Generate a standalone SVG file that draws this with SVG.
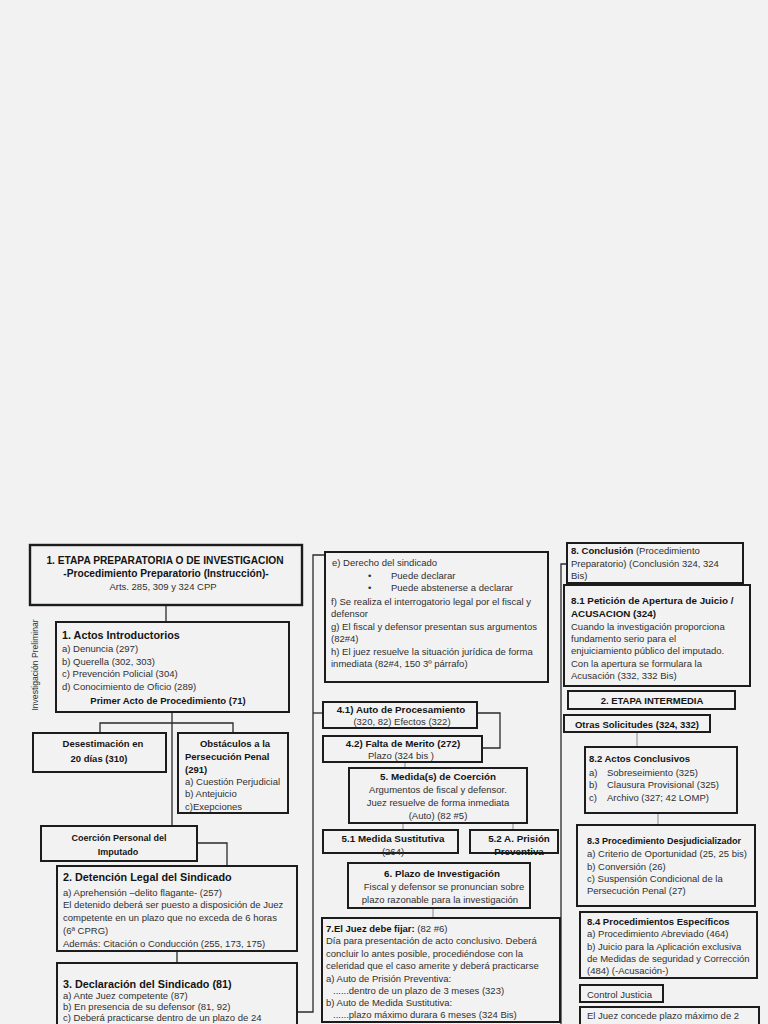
<svg xmlns="http://www.w3.org/2000/svg" width="768" height="1024" viewBox="0 0 768 1024">
<style>
text{font-family:"Liberation Sans",Arial,sans-serif;font-size:9.5px;fill:#303030}
.b{font-weight:bold;fill:#141414}
.s{font-size:9.8px;font-weight:bold;fill:#141414}
.h{font-size:10.8px;font-weight:bold;fill:#141414}
.t{font-size:10.2px;font-weight:bold;fill:#141414}
.c{text-anchor:middle}
.box{fill:none;stroke:#1c1c1c;stroke-width:2}
.thick{stroke-width:2.4}
.ln{fill:none;stroke:#2a2a2a;stroke-width:1.3}
.fl{fill:none;stroke:#8a8a8a;stroke-width:1}
</style>
<rect x="0" y="0" width="768" height="1024" fill="#f2f2f2"/>

<g id="connectors">
<path class="ln" d="M166 605V622"/>
<path class="ln" d="M172 712V826"/>
<path class="ln" d="M100 733V723H233V733"/>
<path class="ln" d="M197 843H227V866"/>
<path class="ln" d="M177 951V963"/>
<path class="ln" d="M297 1012H313V555H325"/>
<path class="ln" d="M313 713H323"/>
<path class="ln" d="M477 713H500V748H482"/>
<path class="fl" d="M405 762V768"/>
<path class="fl" d="M403 823V830"/>
<path class="fl" d="M513 823V830"/>
<path class="fl" d="M433 908V918"/>
<path class="ln" d="M567 564H561V1024"/>
<path class="fl" d="M655 583V585"/>
<path class="fl" d="M637 732V747"/>
<path class="fl" d="M658 813V825"/>
</g>

<text transform="translate(38,665) rotate(-90)" class="c" style="font-size:8.6px">Investigación Preliminar</text>

<g id="n1">
<rect class="box thick" x="30" y="545" width="272" height="60"/>
<text class="t c" x="165" y="564">1. ETAPA PREPARATORIA O DE INVESTIGACION</text>
<text class="t c" x="166" y="577">-Procedimiento Preparatorio (Instrucción)-</text>
<text class="c" x="163" y="590">Arts. 285, 309 y 324 CPP</text>
</g>

<g id="n2">
<rect class="box" x="56" y="622" width="233" height="90"/>
<text class="h" x="62" y="639">1. Actos Introductorios</text>
<text x="62" y="652">a) Denuncia (297)</text>
<text x="62" y="665">b) Querella (302, 303)</text>
<text x="62" y="677">c) Prevención Policial (304)</text>
<text x="62" y="690">d) Conocimiento de Oficio (289)</text>
<text class="b c" x="168" y="704">Primer Acto de Procedimiento (71)</text>
</g>

<g id="n3">
<rect class="box" x="33" y="733" width="133" height="39"/>
<text class="b c" x="103" y="747">Desestimación en</text>
<text class="b c" x="99" y="762">20 días (310)</text>
</g>

<g id="n4">
<rect class="box" x="178" y="733" width="110" height="80"/>
<text class="b c" x="235" y="747">Obstáculos a la</text>
<text class="b" x="185" y="760">Persecución Penal</text>
<text class="b" x="185" y="773">(291)</text>
<text x="185" y="785">a) Cuestión Perjudicial</text>
<text x="185" y="797">b) Antejuicio</text>
<text x="185" y="810">c)Exepciones</text>
</g>

<g id="n5">
<rect class="box" x="41" y="826" width="156" height="35"/>
<text class="b c" x="119" y="841" style="font-size:9px">Coerción Personal del</text>
<text class="b c" x="118" y="855" style="font-size:9px">Imputado</text>
</g>

<g id="n6">
<rect class="box" x="57" y="866" width="240" height="85"/>
<text class="h" x="63" y="881">2. Detención Legal del Sindicado</text>
<text x="63" y="896">a) Aprehensión –delito flagante- (257)</text>
<text x="63" y="908">El detenido deberá ser puesto a disposición de Juez</text>
<text x="63" y="921">competente en un plazo que no exceda de 6 horas</text>
<text x="63" y="934">(6ª CPRG)</text>
<text x="63" y="947">Además: Citación o Conducción (255, 173, 175)</text>
</g>

<g id="n7">
<rect class="box" x="57" y="963" width="240" height="75"/>
<text class="h" x="63" y="988">3. Declaración del Sindicado (81)</text>
<text x="63" y="999">a) Ante Juez competente (87)</text>
<text x="63" y="1010">b) En presencia de su defensor (81, 92)</text>
<text x="63" y="1021">c) Deberá practicarse dentro de un plazo de 24</text>
</g>

<g id="n8">
<rect class="box" x="325" y="552" width="223" height="130"/>
<text x="332" y="566">e) Derecho del sindicado</text>
<text x="368" y="579">•</text>
<text x="391" y="579">Puede declarar</text>
<text x="368" y="591">•</text>
<text x="391" y="591">Puede abstenerse a declarar</text>
<text x="331" y="605">f) Se realiza el interrogatorio legal por el fiscal y</text>
<text x="331" y="617">defensor</text>
<text x="331" y="630">g) El fiscal y defensor presentan sus argumentos</text>
<text x="331" y="642">(82#4)</text>
<text x="331" y="655">h) El juez resuelve la situación jurídica de forma</text>
<text x="331" y="667">inmediata (82#4, 150 3º  párrafo)</text>
</g>

<g id="n9">
<rect class="box" x="323" y="702" width="154" height="26"/>
<text class="s c" x="401" y="713">4.1) Auto de Procesamiento</text>
<text class="c" x="402" y="725">(320, 82) Efectos (322)</text>
</g>

<g id="n10">
<rect class="box" x="323" y="736" width="159" height="26"/>
<text class="s c" x="403" y="747">4.2) Falta de Merito (272)</text>
<text class="c" x="401" y="759">Plazo (324 bis )</text>
</g>

<g id="n11">
<rect class="box" x="349" y="768" width="178" height="55"/>
<text class="s c" x="438" y="780">5. Medida(s) de Coerción</text>
<text class="c" x="438" y="793">Argumentos de fiscal y defensor.</text>
<text class="c" x="438" y="806">Juez resuelve de forma inmediata</text>
<text class="c" x="438" y="819">(Auto) (82 #5)</text>
</g>

<g id="n12">
<rect class="box" x="323" y="830" width="135" height="23"/>
<text class="s c" x="393" y="842">5.1  Medida Sustitutiva</text>
<text class="c" x="393" y="855">(264)</text>
</g>

<g id="n13">
<rect class="box" x="470" y="830" width="88" height="23"/>
<text class="s c" x="519" y="842">5.2 A. Prisión</text>
<text class="s c" x="519" y="855">Preventiva</text>
</g>

<g id="n14">
<rect class="box" x="348" y="863" width="182" height="45"/>
<text class="s c" x="442" y="877">6. Plazo de Investigación</text>
<text class="c" x="444" y="890">Fiscal y defensor se pronuncian sobre</text>
<text class="c" x="440" y="903">plazo razonable para la investigación</text>
</g>

<g id="n15">
<rect class="box" x="322" y="918" width="238" height="104"/>
<text x="326" y="932"><tspan class="b">7.El Juez debe fijar:</tspan> (82 #6)</text>
<text x="326" y="944">Día para presentación de acto conclusivo. Deberá</text>
<text x="326" y="957">concluir lo antes posible, procediéndose con la</text>
<text x="326" y="969">celeridad que el caso amerite y deberá practicarse</text>
<text x="326" y="982">a) Auto de Prisión Preventiva:</text>
<text x="333" y="994">......dentro de un plazo de 3 meses (323)</text>
<text x="326" y="1006">b) Auto de Medida Sustitutiva:</text>
<text x="333" y="1018">......plazo máximo durara 6 meses (324 Bis)</text>
</g>

<g id="n16">
<rect class="box" x="567" y="543" width="176" height="40"/>
<text x="571" y="554"><tspan class="b">8. Conclusión</tspan> (Procedimiento</text>
<text x="571" y="567">Preparatorio) (Conclusión 324, 324</text>
<text x="571" y="579">Bis)</text>
</g>

<g id="n17">
<rect class="box" x="564" y="585" width="186" height="101"/>
<text class="s" x="571" y="604">8.1 Petición de Apertura de Juicio /</text>
<text class="s" x="571" y="617">ACUSACION (324)</text>
<text x="571" y="630">Cuando la investigación proporciona</text>
<text x="571" y="642">fundamento serio para el</text>
<text x="571" y="654">enjuiciamiento público del imputado.</text>
<text x="571" y="667">Con la apertura se formulara la</text>
<text x="571" y="679">Acusación (332, 332 Bis)</text>
</g>

<g id="n18">
<rect class="box" x="568" y="691" width="167" height="18"/>
<text class="b c" x="652" y="704">2. ETAPA INTERMEDIA</text>
</g>

<g id="n19">
<rect class="box" x="564" y="715" width="146" height="17"/>
<text class="b c" x="637" y="728">Otras Solicitudes (324, 332)</text>
</g>

<g id="n20">
<rect class="box" x="585" y="747" width="152" height="66"/>
<text class="b" x="589" y="762">8.2 Actos Conclusivos</text>
<text x="589" y="776">a)</text><text x="607" y="776">Sobreseimiento (325)</text>
<text x="589" y="788">b)</text><text x="607" y="788">Clausura Provisional (325)</text>
<text x="589" y="801">c)</text><text x="607" y="801">Archivo (327; 42 LOMP)</text>
</g>

<g id="n21">
<rect class="box" x="577" y="825" width="178" height="81"/>
<text class="b" x="587" y="844" textLength="154" lengthAdjust="spacingAndGlyphs">8.3 Procedimiento Desjudicializador</text>
<text x="587" y="857">a) Criterio de Oportunidad (25, 25 bis)</text>
<text x="587" y="870">b) Conversión (26)</text>
<text x="587" y="882">c) Suspensión Condicional de la</text>
<text x="587" y="894">Persecución Penal (27)</text>
</g>

<g id="n22">
<rect class="box" x="580" y="912" width="177" height="66"/>
<text class="b" x="587" y="925">8.4 Procedimientos Específicos</text>
<text x="587" y="937">a) Procedimiento Abreviado (464)</text>
<text x="587" y="950">b) Juicio para la Aplicación exclusiva</text>
<text x="587" y="962">de Medidas de seguridad y Corrección</text>
<text x="587" y="974">(484) (-Acusación-)</text>
</g>

<g id="n23">
<rect class="box" x="580" y="985" width="83" height="17"/>
<text x="587" y="998">Control Justicia</text>
</g>

<g id="n24">
<rect class="box" x="580" y="1007" width="179" height="30"/>
<text x="587" y="1019">El Juez concede plazo máximo de 2</text>
</g>
</svg>
